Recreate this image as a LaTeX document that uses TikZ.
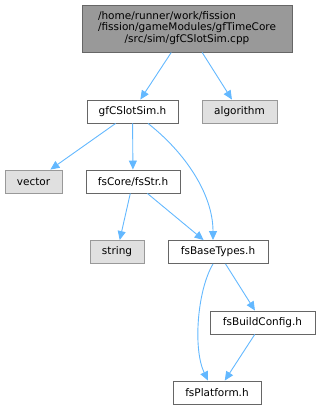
\documentclass[tikz,border=0pt]{standalone}
\usepackage{fontspec}
\setmainfont{DejaVu Sans}
\usetikzlibrary{arrows.meta,calc}
\definecolor{edgeblue}{HTML}{63B8FF}
\definecolor{darkbord}{HTML}{666666}
\definecolor{graybord}{HTML}{999999}
\definecolor{rootfill}{HTML}{999999}
\definecolor{extfill}{HTML}{E0E0E0}
\tikzset{
  x=1pt, y=1pt,
  box/.style={draw=darkbord, fill=white, line width=0.9pt, minimum height=23pt, inner sep=0pt, font=\fontsize{10.5}{11.5}\selectfont},
  extbox/.style={box, draw=graybord, fill=extfill},
  rootbox/.style={box, fill=rootfill},
  edge/.style={draw=edgeblue, line width=0.9pt, -{Triangle[length=9pt,width=8pt]}}
}
\begin{document}
\begin{tikzpicture}
\useasboundingbox (0,0) rectangle (320,-411);
\node[rootbox, minimum width=210pt, minimum height=47pt] (root) at (187,-28.5)
  {\begin{tabular}{@{}l@{}}/home/runner/work/fission\\/fission/gameModules/gfTimeCore\\\multicolumn{1}{@{}c@{}}{/src/sim/gfCSlotSim.cpp}\end{tabular}};
\node[box, minimum width=91pt] (gf) at (132.5,-111.5) {gfCSlotSim.h};
\node[extbox, minimum width=75pt] (alg) at (239.5,-111.5) {algorithm};
\node[extbox, minimum width=57pt] (vec) at (33.5,-181.5) {vector};
\node[box, minimum width=94pt] (str) at (133,-181.5) {fsCore/fsStr.h};
\node[extbox, minimum width=54pt] (string) at (117,-252) {string};
\node[box, minimum width=100pt] (base) at (218,-252) {fsBaseTypes.h};
\node[box, minimum width=105pt] (build) at (262.5,-322.5) {fsBuildConfig.h};
\node[box, minimum width=88pt] (plat) at (217,-392.5) {fsPlatform.h};

\draw[edge] (root) -- (gf);
\draw[edge] (root) -- (alg);
\draw[edge] (gf) -- (vec);
\draw[edge] (gf) -- (str);
\draw[edge] ($(gf.south)+(15.5,0)$) .. controls ($(gf.south)+(52.5,-29)$) and ($(base.north)+(-5,46)$) .. ($(base.north)+(-5,0)$);
\draw[edge] (str) -- (string);
\draw[edge] (str) -- (base);
\draw[edge] ($(base.south)+(-5,0)$) .. controls ($(base.south)+(-21,-27)$) and ($(plat.north)+(-24,31)$) .. ($(plat.north)+(-9,0)$);
\draw[edge] (base) -- (build);
\draw[edge] (build) -- (plat);
\end{tikzpicture}
\end{document}
